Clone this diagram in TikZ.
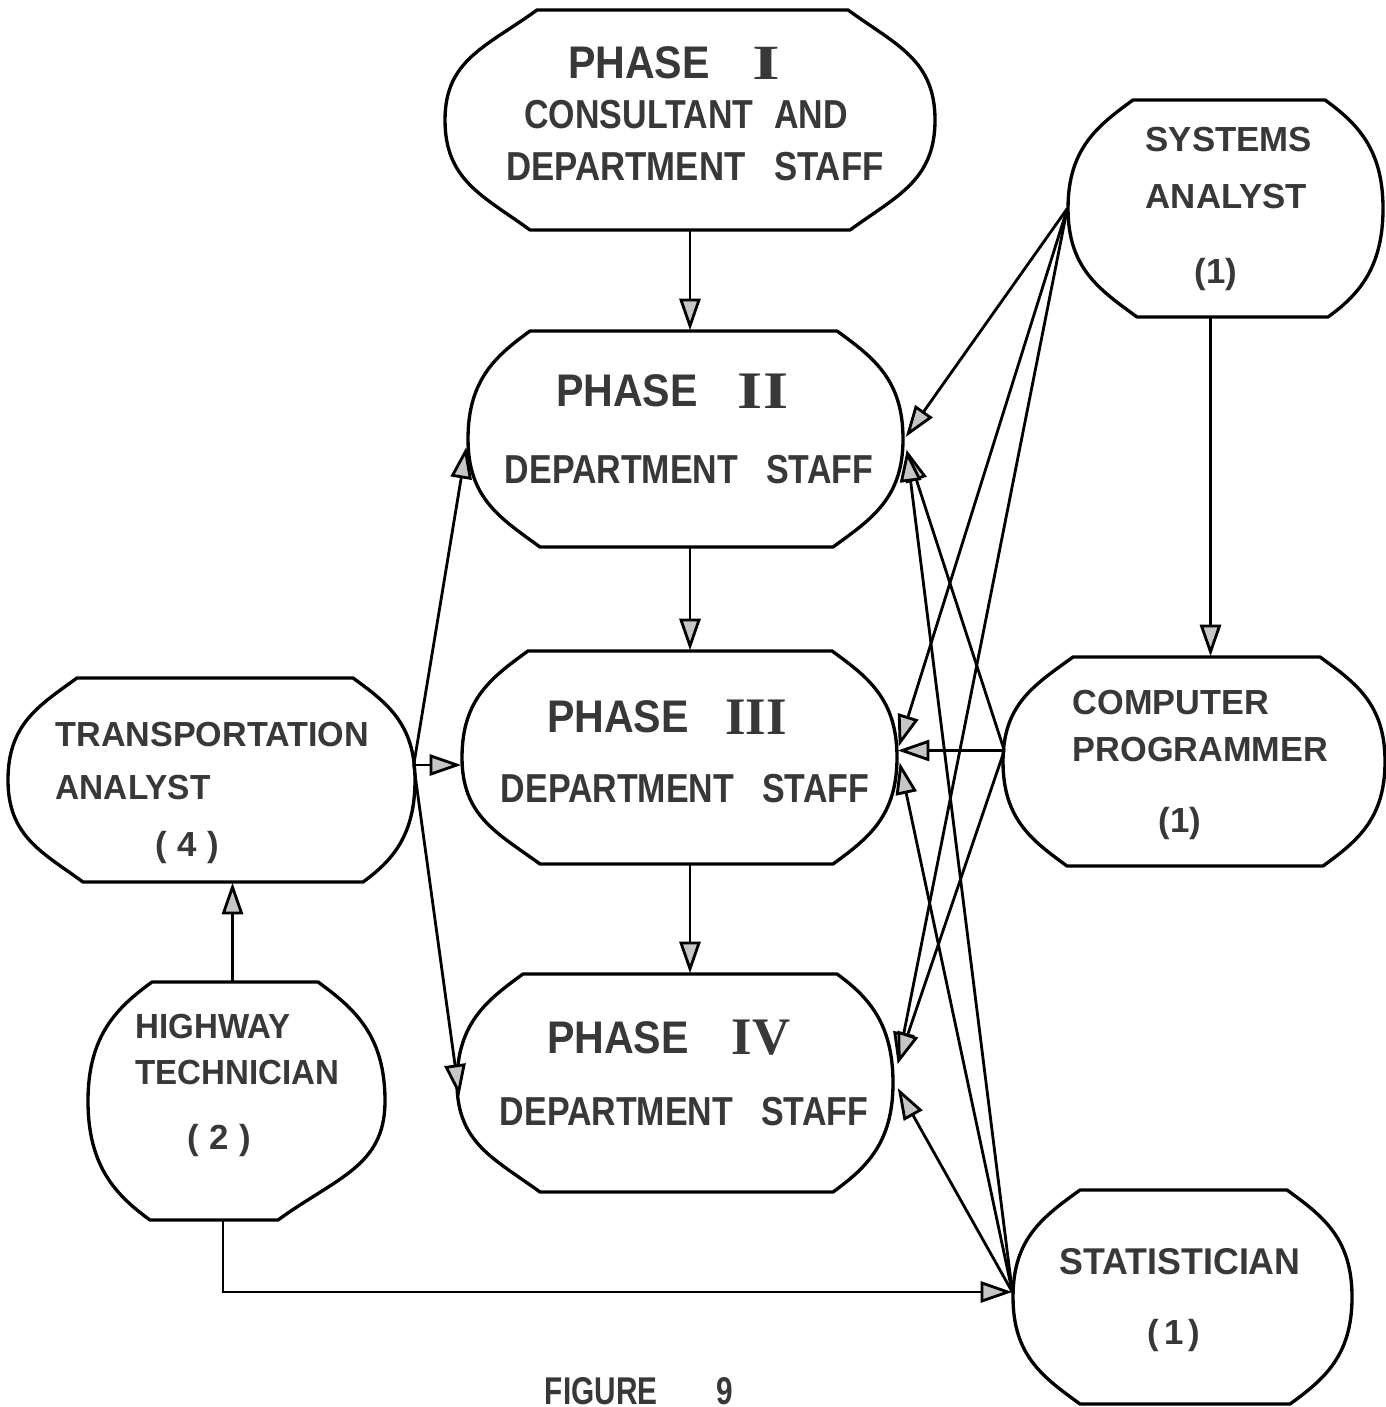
\documentclass[tikz,border=0pt]{standalone}
\usepackage{graphicx}
\usepackage{fontspec}
\setmainfont{Liberation Sans}
\newfontfamily\numfont{Liberation Serif}
\usetikzlibrary{arrows.meta,calc,fit}

% Box with flat top and bottom edges and rounded, bulging sides.
% #1 name, #2 top y, #3 bottom y, #4/#5 top edge x from/to,
% #6/#7 bottom edge x from/to, #8 left extreme x, #9 right extreme x
\newcommand\blobshape[9]{%
  \pgfmathsetmacro\bHH{0.5*(#3-#2)}%
  \pgfmathsetmacro\bYM{0.5*(#2+#3)}%
  \pgfmathsetmacro\sTR{#9-#5}\pgfmathsetmacro\sBR{#9-#7}%
  \pgfmathsetmacro\sTL{#4-#8}\pgfmathsetmacro\sBL{#6-#8}%
  \node[fit={(#8,#2) (#9,#3)}, inner sep=0pt] (#1) {};
  \draw[boxline] (#4,#2) -- (#5,#2)
     .. controls +(0.55*\sTR,0.4*\sTR) and +(0,-0.55*\bHH) .. (#9,\bYM)
     .. controls +(0,0.55*\bHH) and +(0.55*\sBR,-0.4*\sBR) .. (#7,#3)
     -- (#6,#3)
     .. controls +(-0.55*\sBL,-0.4*\sBL) and +(0,0.55*\bHH) .. (#8,\bYM)
     .. controls +(0,-0.55*\bHH) and +(-0.55*\sTL,0.4*\sTL) .. (#4,#2) -- cycle;
}
% horizontally squeezed lettering
\newcommand\hsq[2]{\scalebox{#1}[1]{#2}}
% Roman numeral in a wide slab serif
\newcommand\romnum[3]{\scalebox{#1}[1]{\numfont\bfseries\fontsize{#2}{#2}\selectfont #3}}

\begin{document}
\begin{tikzpicture}[x=0.01cm,y=-0.01cm,
  boxline/.style={line width=0.95pt, line join=round},
  conn/.style={line width=0.8pt, -{Triangle[length=9pt,width=6pt,fill=gray!45]}},
  lbl/.style={inner sep=0pt, text=black!78},
  lblw/.style={lbl, anchor=west},
  small/.style={font=\bfseries\fontsize{9.9}{12}\selectfont},
  big/.style={font=\bfseries\fontsize{11.5}{13}\selectfont},
  phase/.style={font=\bfseries\fontsize{13}{15}\selectfont},
]
\fill[white] (0,0) rectangle (1386,1407);
\useasboundingbox (0,0) rectangle (1386,1407);

% ---- boxes ----
\blobshape{p1}{10}{230}{537}{848}{530}{850}{445}{935}
\blobshape{p2}{331}{547}{530}{837}{540}{833}{468}{903}
\blobshape{p3}{651}{864}{528}{832}{540}{833}{462}{897}
\blobshape{p4}{974}{1192}{523}{837}{540}{833}{457}{893}
\blobshape{sa}{100}{317}{1133}{1325}{1137}{1328}{1068}{1383}
\blobshape{cp}{657}{866}{1073}{1320}{1067}{1323}{1003}{1385}
\blobshape{st}{1190}{1404}{1080}{1287}{1080}{1290}{1013}{1352}
\blobshape{ta}{678}{882}{77}{353}{83}{363}{8}{415}
\blobshape{ht}{982}{1220}{152}{318}{150}{278}{88}{385}

% ---- phase labels ----
\node[lbl, phase] (p1a) at (639,63) {\hsq{0.9}{PHASE}};
\node[lbl] (p1n) at (766,63) {\romnum{1.45}{14}{I}};
\node[lbl, big] (p1b) at (686,115) {\hsq{0.84}{CONSULTANT\hspace{7pt}AND}};
\node[lbl, big] (p1c) at (695,167) {\hsq{0.86}{DEPARTMENT\hspace{9.5pt}STAFF}};

\node[lbl, phase] (p2a) at (627,391) {\hsq{0.9}{PHASE}};
\node[lbl] (p2n) at (763,391) {\romnum{1.22}{15}{II}};
\node[lbl, big] (p2b) at (689,470) {\hsq{0.84}{DEPARTMENT\hspace{9.5pt}STAFF}};

\node[lbl, phase] (p3a) at (618,717) {\hsq{0.9}{PHASE}};
\node[lbl] (p3n) at (756,717) {\romnum{1.0}{15}{III}};
\node[lbl, big] (p3b) at (685,789) {\hsq{0.84}{DEPARTMENT\hspace{9.5pt}STAFF}};

\node[lbl, phase] (p4a) at (618,1038) {\hsq{0.9}{PHASE}};
\node[lbl] (p4n) at (761,1038) {\romnum{1.0}{15}{IV}};
\node[lbl, big] (p4b) at (684,1112) {\hsq{0.84}{DEPARTMENT\hspace{9.5pt}STAFF}};

% ---- staff labels ----
\node[lblw, small] (sa1) at (1145,140) {SYSTEMS};
\node[lblw, small] (sa2) at (1145,197) {ANALYST};
\node[lbl, small] (sa3) at (1216,275) {(1)};

\node[lblw, small] (cp1) at (1072,703) {\hsq{0.985}{COMPUTER}};
\node[lblw, small] (cp2) at (1072,750) {\hsq{0.985}{PROGRAMMER}};
\node[lbl, small] (cp3) at (1180,823) {(1)};

\node[lbl, font=\bfseries\fontsize{10.6}{12}\selectfont] (st1) at (1180,1262) {\hsq{0.96}{STATISTICIAN}};
\node[lbl, small] (st2) at (1174,1335) {(\hspace{1.5pt}1\hspace{1.5pt})};

\node[lblw, small] (ta1) at (55,735) {\hsq{0.98}{TRANSPORTATION}};
\node[lblw, small] (ta2) at (55,788) {\hsq{0.96}{ANALYST}};
\node[lbl, small] (ta3) at (187,847) {(\hspace{3pt}4\hspace{3pt})};

\node[lblw, small] (ht1) at (135,1027) {\hsq{0.95}{HIGHWAY}};
\node[lblw, small] (ht2) at (135,1073) {\hsq{0.95}{TECHNICIAN}};
\node[lbl, small] (ht3) at (219,1140) {(\hspace{3pt}2\hspace{3pt})};

\node[lbl, font=\bfseries\fontsize{11}{13}\selectfont] (fig) at (639,1391) {\hsq{0.77}{FIGURE\hspace{21.8pt}9}};

% ---- phase sequence ----
\draw[conn] (p1.south) -- (p1.south |- p2.north);
\draw[conn] (p2.south -| p1.south) -- (p3.north -| p1.south);
\draw[conn] (p3.south -| p1.south) -- (p4.north -| p1.south);

% ---- systems analyst to programmer ----
\draw[conn] ($(sa.south)+(-15,0)$) coordinate (sadown) -- (sadown |- cp.north);

% ---- highway technician to transportation analyst ----
\draw[conn] ($(ht.north)+(-4,0)$) coordinate (htup) -- (htup |- ta.south);

% ---- transportation analyst to phases ----
\coordinate (taout) at ($(ta.east)+(-2,-15)$);
\draw[conn] (taout) -- ($(p2.west)+(-1,8)$);
\draw[conn] (taout) -- (taout -| p3.west);
\draw[conn] (taout) -- ($(p4.west)+(3,13)$);

% ---- systems analyst to phases ----
\draw[conn] (sa.west) -- ($(p2.east)+(2,-2)$);
\draw[conn] (sa.west) -- ($(p3.east)+(1,-11)$);
\draw[conn] (sa.west) -- ($(p4.east)+(4,-19)$);

% ---- computer programmer to phases ----
\coordinate (cpout) at ($(cp.west)+(2,-11)$);
\draw[conn] (cpout) -- ($(p2.east)+(3,11)$);
\draw[conn] (cpout) -- (cpout -| p3.east);
\draw[conn] (cpout) -- ($(p4.east)+(4,-19)$);

% ---- statistician to phases ----
\coordinate (stout) at ($(st.west)+(0,-5)$);
\draw[conn] (stout) -- ($(p2.east)+(3,11)$);
\draw[conn] (stout) -- ($(p3.east)+(2,5)$);
\draw[conn] (stout) -- ($(p4.east)+(4,5)$);

% ---- highway technician to statistician ----
\draw[conn] ($(ht.south)+(-13.5,0)$) |- (stout);
\end{tikzpicture}
\end{document}
